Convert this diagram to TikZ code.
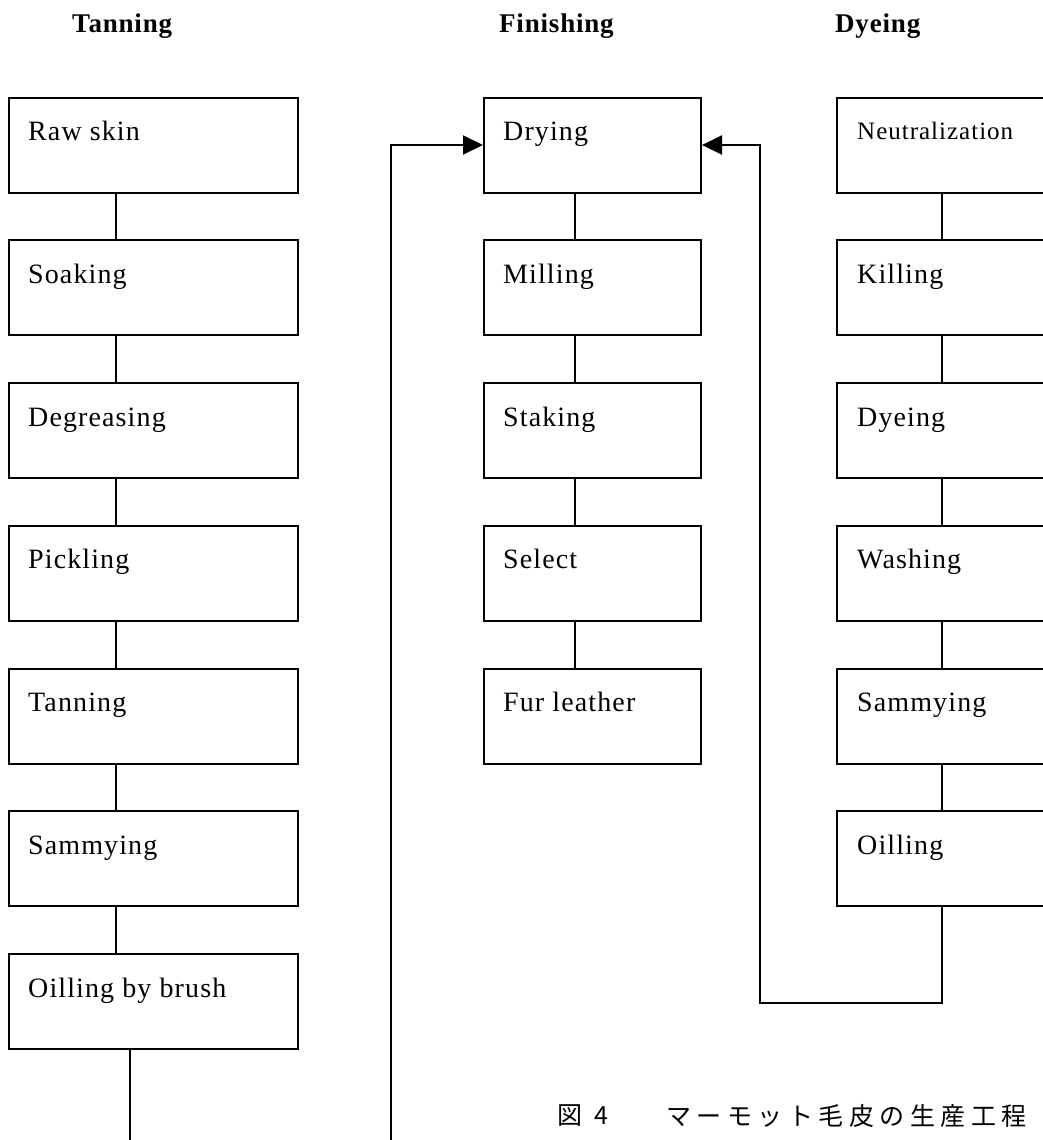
\documentclass[tikz,border=0pt]{standalone}
\usepackage{fontspec}
\setmainfont{Liberation Serif}
\newfontfamily\lblfont[LetterSpace=4]{Liberation Serif}
\newfontfamily\ttlfont[LetterSpace=3]{Liberation Serif}
\newfontfamily\cjkfont{Noto Sans CJK JP}
\usetikzlibrary{arrows.meta}
\begin{document}
\begin{tikzpicture}[x=1pt,y=-1pt,
  box/.style={draw,line width=2pt,rectangle,inner sep=0pt,anchor=north west,minimum height=95pt},
  lbox/.style={box,minimum width=289pt},
  mbox/.style={box,minimum width=217pt},
  rbox/.style={box,minimum width=230pt},
  lbl/.style={anchor=base west,inner sep=0pt,font=\lblfont\fontsize{28}{30}\selectfont},
  slbl/.style={anchor=base west,inner sep=0pt,font=\lblfont\fontsize{25}{28}\selectfont},
  ttl/.style={anchor=base west,inner sep=0pt,font=\ttlfont\bfseries\fontsize{27}{30}\selectfont},
  captionstyle/.style={anchor=west,inner sep=0pt,font=\cjkfont\fontsize{25}{28}\selectfont},
  conn/.style={line width=2pt},
  arr/.style={line width=2pt,-{Triangle[length=20pt,width=19pt]}}
]
\useasboundingbox (0,0) rectangle (1043,1140);
\clip (0,0) rectangle (1043,1140);

% titles
\node[ttl] (t1) at (72,33) {Tanning};
\node[ttl] (t2) at (499,33) {Finishing};
\node[ttl] (t3) at (835,33) {Dyeing};

% column x coordinates for connectors
\coordinate (lx) at (116,0);
\coordinate (lx2) at (130,0);
\coordinate (mx) at (575,0);
\coordinate (rx) at (942,0);
\coordinate (bottom) at (0,1150);

% left column
\foreach \n/\t [count=\k from 0] in {l1/Raw skin,l2/Soaking,l3/Degreasing,l4/Pickling,l5/Tanning,l6/Sammying,l7/Oilling by brush}{
  \node[lbox] (\n) at (8,{96.5+142.75*\k}) {};
  \node[lbl] (\n t) at ([shift={(20,44)}]\n.north west) {\t};
}
% middle column
\foreach \n/\t [count=\k from 0] in {m1/Drying,m2/Milling,m3/Staking,m4/Select,m5/Fur leather}{
  \node[mbox] (\n) at (483,{96.5+142.75*\k}) {};
  \node[lbl] (\n t) at ([shift={(20,44)}]\n.north west) {\t};
}
% right column
\node[rbox] (r1) at (836,96.5) {};
\node[slbl] (r1t) at ([shift={(21,43)}]r1.north west) {Neutralization};
\foreach \n/\t [count=\k from 1] in {r2/Killing,r3/Dyeing,r4/Washing,r5/Sammying,r6/Oilling}{
  \node[rbox] (\n) at (836,{96.5+142.75*\k}) {};
  \node[lbl] (\n t) at ([shift={(21,44)}]\n.north west) {\t};
}

% connectors
\foreach \a/\b in {l1/l2,l2/l3,l3/l4,l4/l5,l5/l6,l6/l7}{
  \draw[conn] (lx |- \a.south) -- (lx |- \b.north);
}
\draw[conn] (lx2 |- l7.south) -- (lx2 |- bottom);
\foreach \a/\b in {m1/m2,m2/m3,m3/m4,m4/m5}{
  \draw[conn] (mx |- \a.south) -- (mx |- \b.north);
}
\foreach \a/\b in {r1/r2,r2/r3,r3/r4,r4/r5,r5/r6}{
  \draw[conn] (rx |- \a.south) -- (rx |- \b.north);
}

% feedback arrows into Drying
\coordinate (fbl) at (391,1150);
\draw[arr] (fbl) |- (m1.west);
\coordinate (fbr) at (760,1003);
\draw[arr] (rx |- r6.south) |- (fbr) |- (m1.east);

% caption
\node[captionstyle] (capnum) at (557,1116) {図\hspace{12pt}4};
\node[captionstyle] (captxt) at (666,1116) {\foreach \c in {マ,ー,モ,ッ,ト,毛,皮,の,生,産,工,程}{\makebox[30.5pt][l]{\c}}};
\end{tikzpicture}
\end{document}
